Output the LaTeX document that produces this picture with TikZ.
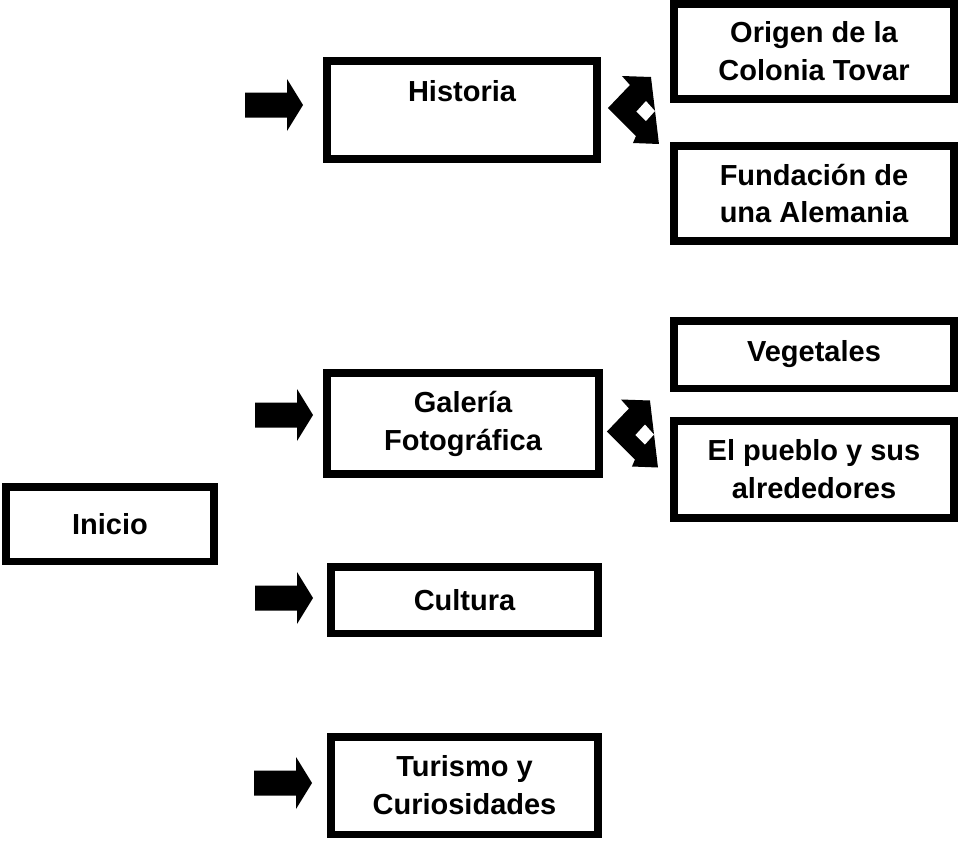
\documentclass[tikz,border=0pt]{standalone}
\usepackage{fontspec}
\setmainfont{Liberation Sans}

\begin{document}
\begin{tikzpicture}[x=0.02cm, y=-0.02cm,
    box/.style={draw, line width=0.15cm, inner sep=0pt, align=center,
        font=\bfseries\fontsize{16.5}{21.6}\selectfont},
    goarrow/.pic={\fill (0,0) -- (-16,-26) -- (-16,-12.5) -- (-58,-12.5)
        -- (-58,12.5) -- (-16,12.5) -- (-16,26) -- cycle;},
    splitarrow/.pic={\fill (0,0) -- (22,-23) -- (14,-32) -- (43,-31)
        -- (51,36) -- (25,35) -- (28,28) -- cycle;
        \fill[white] (38,-7) -- (47,3) -- (38,13) -- (28.5,3.5) -- cycle;}]
    \useasboundingbox (0,0) rectangle (958,846);

    % left column
    \node[box, minimum width=4.17cm, minimum height=1.49cm] (inicio) at (110,524) {Inicio};

    % middle column
    \node[box, minimum width=5.41cm, minimum height=1.97cm] (historia) at (462,110) {Historia\\\mbox{}};
    \node[box, minimum width=5.45cm, minimum height=2.03cm] (galeria) at (463,423.5) {Galería\\Fotográfica};
    \node[box, minimum width=5.35cm, minimum height=1.33cm] (cultura) at (464.5,600) {Cultura};
    \node[box, minimum width=5.35cm, minimum height=1.95cm] (turismo) at (464.5,785.5) {Turismo y\\Curiosidades};

    % right column
    \node[box, minimum width=5.61cm, minimum height=1.91cm] (origen) at (814,51.5) {Origen de la\\Colonia Tovar};
    \node[box, minimum width=5.61cm, minimum height=1.91cm] (fundacion) at (814,193.5) {Fundación de\\una Alemania};
    \node[box, minimum width=5.61cm, minimum height=1.35cm] (vegetales) at (814,354.5) {Vegetales};
    \node[box, minimum width=5.61cm, minimum height=1.95cm] (pueblo) at (814,469.5) {El pueblo y sus\\alrededores};

    % block arrows
    \pic at ([shift={(-20,-5)}]historia.west) {goarrow};
    \pic at ([shift={(-10,-8.5)}]galeria.west) {goarrow};
    \pic at ([shift={(-14,-2)}]cultura.west) {goarrow};
    \pic at ([shift={(-15,-2.5)}]turismo.west) {goarrow};
    \pic at ([shift={(7,-2)}]historia.east) {splitarrow};
    \pic at ([shift={(4,8)}]galeria.east) {splitarrow};
\end{tikzpicture}
\end{document}
